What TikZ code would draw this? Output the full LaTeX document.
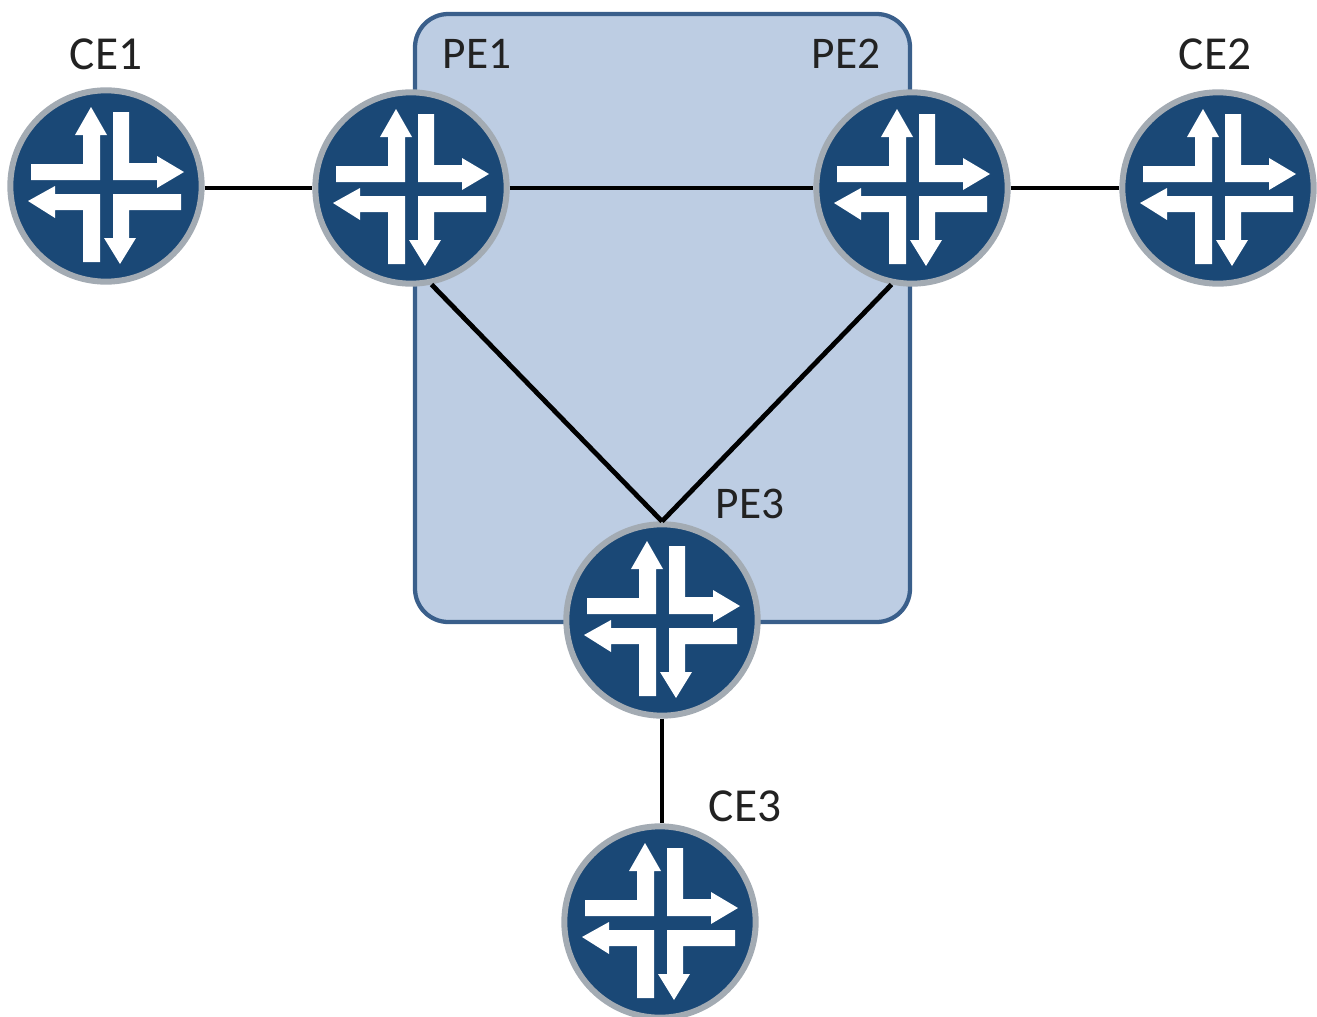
\documentclass[tikz,border=0pt]{standalone}
\usepackage{fontspec}
\setmainfont{Carlito}
\definecolor{routerblue}{HTML}{1A4876}
\definecolor{ringgray}{HTML}{A3ABB3}
\definecolor{regionfill}{HTML}{BDCDE3}
\definecolor{regionline}{HTML}{3A5F8B}
\definecolor{labelink}{HTML}{222222}
\tikzset{
  x=0.75pt,y=-0.75pt,
  routerbody/.style={circle,fill=routerblue,draw=ringgray,line width=4.5pt,minimum size=143.5pt,inner sep=0pt},
  link/.style={draw=black,line width=3.6pt},
  lbl/.style={font=\fontsize{34pt}{36pt}\selectfont,text=labelink,inner sep=0pt,anchor=center},
  lblwide/.style={lbl,font=\fontsize{35.5pt}{37pt}\selectfont},
  region/.style={rectangle,rounded corners=25pt,fill=regionfill,draw=regionline,line width=3.2pt,minimum width=371.25pt,minimum height=456pt,inner sep=0pt},
  routerarrows/.pic={
    \fill[white] (-75,-22)--(-23,-22)--(-23,-51)--(-31,-51)--(-15,-79)--(1,-51)--(-6,-51)--(-6,-6)--(-75,-6)--cycle;
    \fill[white] (7,-74)--(23,-74)--(23,-23)--(51,-23)--(51,-30)--(78,-14)--(51,2)--(51,-6)--(7,-6)--cycle;
    \fill[white] (-78,15)--(-51,0)--(-51,8)--(-6,8)--(-6,76)--(-23,76)--(-23,24)--(-51,24)--(-51,32)--cycle;
    \fill[white] (7,8)--(75,8)--(75,24)--(23,24)--(23,52)--(30,52)--(14,78)--(-2,52)--(7,52)--cycle;
  }
}
\begin{document}
\begin{tikzpicture}
\useasboundingbox (0,0) rectangle (1317,1017);
\node[region] (area) at (662.5,318) {};
\node[routerbody] (CE1) at (106,186) {};
\node[routerbody] (PE1) at (411,188) {};
\node[routerbody] (PE2) at (912,188) {};
\node[routerbody] (CE2) at (1218,188) {};
\node[routerbody] (PE3) at (662,620) {};
\node[routerbody] (CE3) at (660,922) {};
\foreach \r in {CE1,PE1,PE2,CE2,PE3,CE3} \pic at (\r.center) {routerarrows};
\draw[link] (CE1.east |- PE1.west) -- (PE1.west);
\draw[link] (PE1.east) -- (PE2.west);
\draw[link] (PE2.east) -- (CE2.west);
\draw[link] (PE1.-78) -- (PE3.90);
\draw[link] (PE2.-102) -- (PE3.90);
\draw[link] (PE3.south) -- (PE3.south |- CE3.north);
\node[lblwide] (tCE1) at (106,54) {CE1};
\node[lbl] (tPE1) at (477,54) {PE1};
\node[lbl] (tPE2) at (846,54) {PE2};
\node[lblwide] (tCE2) at (1215,54) {CE2};
\node[lbl] (tPE3) at (750,504) {PE3};
\node[lblwide] (tCE3) at (745,806) {CE3};
\end{tikzpicture}
\end{document}
